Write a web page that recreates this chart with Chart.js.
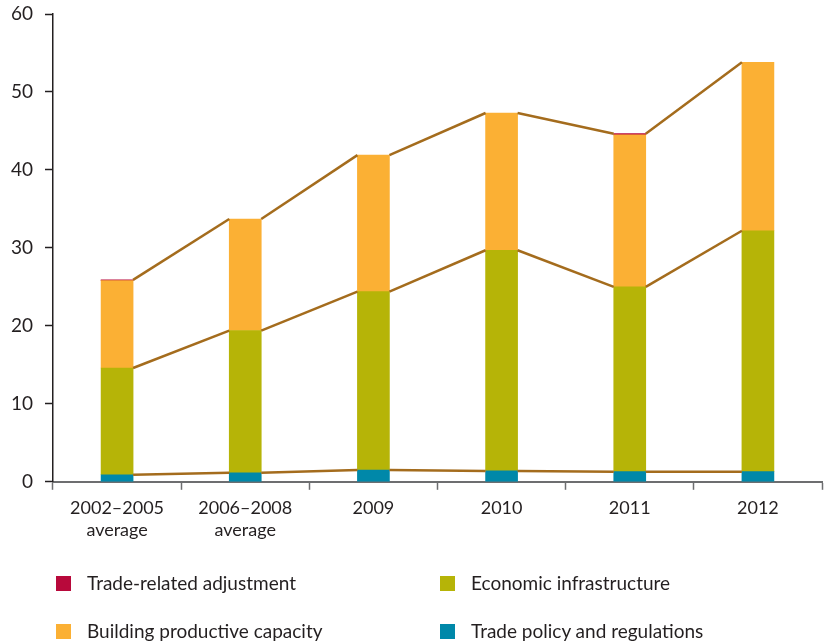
<!DOCTYPE html>
<html>
<head>
<meta charset="utf-8">
<script src="https://cdn.jsdelivr.net/npm/chart.js@4.4.1/dist/chart.umd.min.js"></script>
<style>
    body { margin: 0; background: #fff; }
    .wrap { position: relative; width: 825px; height: 642px; }
    .legende { position: absolute; left: 0; top: 0; width: 825px; height: 642px; pointer-events: none;
        font-family: Lato, "Open Sans", sans-serif; font-size: 19px; color: #231f20; }
    .legende div { position: absolute; white-space: nowrap; line-height: 22px; }
    .legende span { position: absolute; width: 15px; height: 15px; }
</style>
</head>
<body>
<div class="wrap">
    <canvas id="graphique" width="825" height="642"></canvas>
    <div class="legende" id="legende"></div>
</div>
<script>
const annees = [["2002–2005", "average"], ["2006–2008", "average"], "2009", "2010", "2011", "2012"];
const politique = [0.9, 1.15, 1.5, 1.4, 1.3, 1.3];
const infrastructure = [13.7, 18.25, 22.9, 28.3, 23.7, 30.9];
const capacite = [11.2, 14.3, 17.5, 17.6, 19.5, 21.6];
const ajustement = [0.1, null, null, null, 0.15, null];
const graduations = [0, 10, 20, 30, 40, 50, 60];

const couleurs = {
    politique: "#0088a9",
    infrastructure: "#b6b407",
    capacite: "#fbb034",
    ajustement: "#b8093b"
};
const couleurLigne = "#a46c1d";
const police = "Lato, 'Open Sans', sans-serif";

// lignes entre les bords des barres, au sommet de chaque cumul
const lignesCumul = {
    id: "lignesCumul",
    afterDatasetsDraw(chart) {
        const ctx = chart.ctx;
        const y = chart.scales.y;
        const barres = chart.getDatasetMeta(0).data;
        const niveaux = [[], [], []];
        for (let i = 0; i < annees.length; i++) {
            niveaux[0].push(politique[i]);
            niveaux[1].push(politique[i] + infrastructure[i]);
            niveaux[2].push(politique[i] + infrastructure[i] + capacite[i] + (ajustement[i] || 0));
        }
        ctx.save();
        ctx.strokeStyle = couleurLigne;
        ctx.lineWidth = 2.5;
        for (let n = 0; n < niveaux.length; n++) {
            for (let i = 0; i < barres.length - 1; i++) {
                const a = barres[i], b = barres[i + 1];
                ctx.beginPath();
                ctx.moveTo(a.x + a.width / 2, y.getPixelForValue(niveaux[n][i]));
                ctx.lineTo(b.x - b.width / 2, y.getPixelForValue(niveaux[n][i + 1]));
                ctx.stroke();
            }
        }
        ctx.restore();
    }
};

const config = {
    type: "bar",
    data: {
        labels: annees,
        datasets: [
            { label: "Trade policy and regulations", data: politique, backgroundColor: couleurs.politique },
            { label: "Economic infrastructure", data: infrastructure, backgroundColor: couleurs.infrastructure },
            { label: "Building productive capacity", data: capacite, backgroundColor: couleurs.capacite },
            { label: "Trade-related adjustment", data: ajustement, backgroundColor: couleurs.ajustement }
        ]
    },
    options: {
        responsive: false,
        animation: false,
        layout: { padding: { top: 14, right: 3, left: 0, bottom: 93 } },
        datasets: { bar: { barThickness: 32, borderWidth: 0 } },
        plugins: { legend: { display: false }, tooltip: { enabled: false } },
        scales: {
            x: {
                stacked: true,
                grid: { offset: true, drawOnChartArea: false, tickLength: 8, tickColor: "#6d6e70", tickWidth: 1.5 },
                border: { color: "#6d6e70", width: 2 },
                ticks: { color: "#231f20", font: { family: police, size: 18 }, padding: 8, maxRotation: 0 }
            },
            y: {
                stacked: true,
                min: 0,
                max: 60,
                afterFit(scale) {
                    scale.width = 53;
                    scale.paddingTop = 0;
                    scale.paddingBottom = 0;
                },
                afterBuildTicks(scale) { scale.ticks = graduations.map(v => ({ value: v })); },
                grid: { drawOnChartArea: false, tickLength: 8, tickColor: "#231f20", tickWidth: 1.5 },
                border: { color: "#231f20", width: 1.5 },
                ticks: { color: "#231f20", font: { family: police, size: 19 }, padding: 12 }
            }
        }
    },
    plugins: [lignesCumul]
};

const graphique = new Chart(document.querySelector("#graphique"), config);

// légende en deux colonnes
const elementsLegende = [
    { texte: "Trade-related adjustment", couleur: couleurs.ajustement, x: 56, y: 584 },
    { texte: "Economic infrastructure", couleur: couleurs.infrastructure, x: 440, y: 584 },
    { texte: "Building productive capacity", couleur: couleurs.capacite, x: 56, y: 632 },
    { texte: "Trade policy and regulations", couleur: couleurs.politique, x: 440, y: 632 }
];
const legende = document.querySelector("#legende");
for (const el of elementsLegende) {
    const carre = document.createElement("span");
    carre.style.left = el.x + "px";
    carre.style.top = (el.y - 8) + "px";
    carre.style.background = el.couleur;
    const texte = document.createElement("div");
    texte.textContent = el.texte;
    texte.style.left = (el.x + 31) + "px";
    texte.style.top = (el.y - 12) + "px";
    legende.appendChild(carre);
    legende.appendChild(texte);
}
</script>
</body>
</html>
